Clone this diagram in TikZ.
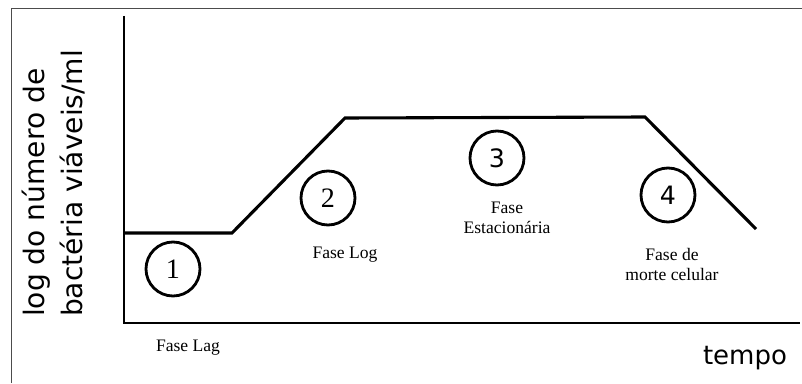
\documentclass[tikz,border=0pt]{standalone}
\usepackage{fontspec}
\setmainfont{Liberation Serif}
\newfontfamily\axisfont{DejaVu Sans}
\usetikzlibrary{positioning}

\tikzset{
  phase/.style={circle, draw, line width=2pt, minimum size=1.35cm, inner sep=0pt, font=\fontsize{20}{20}\selectfont},
  phaselabel/.style={align=center, font=\fontsize{12.5}{14.2}\selectfont},
  curve/.style={line width=2.2pt, line join=miter}
}

\begin{document}
\begin{tikzpicture}
			\useasboundingbox (0,0) rectangle (20.05,9.575);
			\draw[color = black!70, line width = 0.7pt] (0.275,0) -- (0.275,9.375) -- (20.05,9.375);
			% axes
			\coordinate (ytop) at (3.1,9.175);
			\coordinate (orig) at (3.1,1.5);
			\coordinate (xend) at (20.0,1.5);
			\draw[line width = 1.4pt] (ytop) -- (orig) -- (xend);
			% growth curve
			\coordinate (lag0) at (3.1,3.75);
			\coordinate (lag1) at (5.8,3.75);
			\coordinate (top0) at (8.625,6.625);
			\coordinate (top1) at (16.125,6.65);
			\coordinate (death) at (18.9,3.85);
			\draw[curve] (lag0) -- (lag1) -- (top0) -- (top1) -- (death);
			% phases
			\node[phase] (p1) at (4.325,2.85) {1};
			\node[phase] (p2) at (8.2,4.625) {2};
			\node[phase, font = \axisfont\fontsize{18}{18}\selectfont] (p3) at (12.425,5.625) {3};
			\node[phase, font = \axisfont\fontsize{18}{18}\selectfont] (p4) at (16.7,4.7) {4};
			\node[phaselabel] (lag) at (4.7,0.875) {Fase Lag};
			\node[phaselabel] (log) at (8.625,3.2) {Fase Log};
			\node[phaselabel] (est) at (12.675,4.125) {Fase\\Estacionária};
			\node[phaselabel] (morte) at (16.8,2.96) {Fase de\\morte celular};
			% axis labels
			\node[font = \axisfont\fontsize{18.5}{18.5}\selectfont] (tempo) at (18.625,0.625) {tempo};
			\node[rotate = 90, align = left, font = \axisfont\fontsize{20}{27}\selectfont] (ylab) at (1.35,4.99) {log do número de\\bactéria viáveis/ml};
		\end{tikzpicture}
\end{document}
